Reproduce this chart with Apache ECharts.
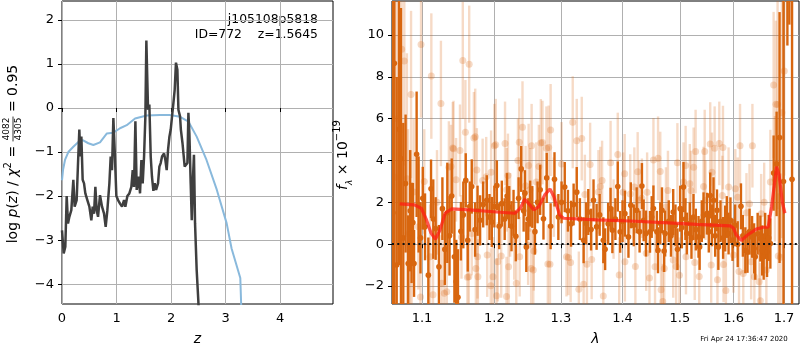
<!DOCTYPE html>
<html>
<head>
<meta charset="utf-8">
<title>p(z) and spectrum</title>
<script src="https://cdn.jsdelivr.net/npm/echarts@6/dist/echarts.min.js"></script>
<style>
  html, body { margin: 0; padding: 0; background: #fff; }
  #chart { width: 800px; height: 350px; }
</style>
</head>
<body>
<div id="chart"></div>
<script>
// ---- left panel: log p(z) (dark) and chi2 curve (blue), [z, value]
var pzCurve = [
  [0.000,-2.78],[0.031,-3.30],[0.061,-3.15],[0.086,-2.00],[0.110,-2.62],[0.135,-2.47],[0.171,-2.32],
  [0.208,-1.63],[0.232,-2.24],[0.269,-2.09],[0.294,-1.25],[0.318,-0.49],[0.336,-1.10],[0.355,-0.65],
  [0.379,-1.63],[0.404,-1.71],[0.428,-1.94],[0.465,-2.09],[0.502,-2.24],[0.538,-2.55],[0.563,-2.24],
  [0.587,-2.40],[0.612,-1.79],[0.636,-2.32],[0.661,-2.47],[0.697,-1.98],[0.734,-2.24],[0.771,-2.40],
  [0.801,-2.70],[0.832,-2.32],[0.869,-1.71],[0.893,-1.10],[0.917,-1.41],[0.942,-0.23],[0.966,-0.95],
  [0.997,-2.00],[1.028,-2.09],[1.064,-2.17],[1.101,-2.24],[1.138,-2.09],[1.162,-2.24],[1.199,-2.00],
  [1.235,-1.94],[1.272,-1.79],[1.297,-1.41],[1.321,-1.79],[1.346,-0.30],[1.370,-1.86],[1.407,-1.56],
  [1.431,-1.94],[1.456,-1.18],[1.480,-1.71],[1.505,-1.10],[1.529,-0.19],[1.547,1.53],[1.578,-0.04],
  [1.602,0.08],[1.627,-1.10],[1.650,-1.56],[1.676,-1.88],[1.700,-1.71],[1.725,-1.86],[1.761,-1.71],
  [1.786,-1.33],[1.810,-1.25],[1.835,-1.10],[1.872,-1.03],[1.896,-1.18],[1.920,-1.41],[1.945,-0.95],
  [1.970,-0.65],[1.994,-0.49],[2.018,-0.19],[2.043,0.11],[2.067,0.42],[2.090,1.03],[2.116,0.87],
  [2.135,-0.04],[2.165,-0.19],[2.180,-0.49],[2.210,-0.80],[2.226,-0.80],[2.250,-1.33],[2.275,-1.30],
  [2.300,-1.25],[2.318,-0.11],[2.336,-0.57],[2.360,-1.71],[2.380,-2.55],[2.398,-1.71],[2.420,-1.06],
  [2.440,-2.62],[2.470,-3.68],[2.500,-4.37],[2.520,-5.00]
];
var chiCurve = [
  [0.000,-1.64],[0.020,-1.40],[0.055,-1.18],[0.116,-1.00],[0.208,-0.88],[0.300,-0.77],[0.379,-0.73],
  [0.483,-0.80],[0.575,-0.84],[0.697,-0.78],[0.820,-0.58],[0.942,-0.56],[1.064,-0.46],[1.187,-0.39],
  [1.340,-0.24],[1.553,-0.17],[1.800,-0.16],[1.980,-0.16],[2.165,-0.20],[2.320,-0.31],[2.470,-0.65],
  [2.650,-1.18],[2.840,-1.86],[3.020,-2.62],[3.110,-3.19],[3.270,-3.86],[3.300,-5.00]
];
var zTicks = [0, 1, 2, 3, 4];
var pTicks = [-4, -3, -2, -1, 0, 1, 2];

// ---- right panel: [lambda, flux, err]
var darkPoints = [
  [1.0622,1.5,14],[1.0640,8.65,12],[1.0670,-1.0,9],[1.0700,5.5,6.5],[1.0725,4.1,7.2],[1.0755,0.3,5.5],
  [1.0785,2.9,3.3],[1.0819,-0.92,2.3],[1.0845,1.6,2.9],[1.0863,0.54,2.4],[1.0880,1.03,1.9],[1.0895,-0.92,1.6],
  [1.0929,4.3,3.0],[1.0955,1.9,2.3],[1.0980,0.3,1.7],[1.1010,2.2,1.5],[1.1040,0.83,1.6],[1.1084,-1.48,1.8],
  [1.1120,2.65,1.4],[1.1150,1.2,1.9],[1.1182,0.75,1.5],[1.1226,-1.08,2.0],[1.1273,1.7,1.5],[1.1306,-0.25,1.7],
  [1.1340,1.5,2.4],[1.1370,0.4,1.9],[1.1400,2.3,1.8],[1.1437,-0.6,2.2],[1.1462,-1.79,2.0],[1.1486,-2.54,2.3],
  [1.1527,0.62,1.4],[1.1560,1.4,1.6],[1.1594,3.05,1.3],[1.1622,0.19,1.5],[1.1650,1.8,1.2],[1.1678,2.76,1.3],
  [1.1725,0.7,1.3],[1.1760,1.6,1.2],[1.1796,1.14,1.2],[1.1840,1.9,1.1],[1.1891,2.1,1.2],[1.1930,1.3,1.1],
  [1.1963,1.06,1.2],[1.2000,1.8,1.0],[1.2036,2.81,1.2],[1.2070,0.86,1.1],[1.2108,1.94,1.1],[1.2150,1.2,1.0],
  [1.2185,2.3,1.1],[1.2216,1.78,1.0],[1.2250,0.86,1.2],[1.2280,1.5,1.1],[1.2314,0.38,1.2],[1.2355,2.2,1.0],
  [1.2394,3.6,1.1],[1.2430,1.6,1.0],[1.2449,2.44,1.1],[1.2470,-0.13,1.2],[1.2500,1.2,1.0],[1.2528,1.94,1.1],
  [1.2560,1.78,1.0],[1.2600,0.6,1.1],[1.2640,2.0,1.0],[1.2680,2.6,1.2],[1.2730,1.22,1.0],[1.2780,3.17,1.2],
  [1.2840,0.86,1.1],[1.2900,3.1,1.3],[1.2960,1.3,1.1],[1.3010,2.0,1.0],[1.3060,2.73,1.2],[1.3110,1.6,1.0],
  [1.3160,0.98,1.1],[1.3200,1.9,1.0],[1.3250,2.49,1.2],[1.3300,1.2,1.0],[1.3360,0.19,1.1],[1.3400,1.0,1.0],
  [1.3435,1.54,1.1],[1.3480,0.7,1.0],[1.3520,2.1,1.0],[1.3570,0.83,1.1],[1.3620,1.4,1.0],[1.3680,0.19,1.1],
  [1.3710,-0.24,1.0],[1.3760,0.98,1.0],[1.3800,1.7,1.0],[1.3830,0.67,1.1],[1.3880,1.2,1.0],[1.3920,2.76,1.2],
  [1.3960,0.59,1.0],[1.4000,1.1,1.0],[1.4040,1.46,1.1],[1.4100,0.35,1.0],[1.4140,1.86,1.1],[1.4190,0.9,1.0],
  [1.4240,1.62,1.1],[1.4290,0.6,1.0],[1.4330,2.78,1.1],[1.4360,1.14,1.0],[1.4400,0.51,1.1],[1.4470,0.59,1.0],
  [1.4500,1.3,1.0],[1.4530,1.71,1.1],[1.4590,0.59,1.0],[1.4610,-0.29,1.1],[1.4650,1.0,1.0],[1.4680,1.62,1.1],
  [1.4718,-0.33,1.0],[1.4736,0.51,1.1],[1.4800,1.1,1.0],[1.4840,0.4,1.0],[1.4880,1.54,1.1],[1.4920,0.9,1.0],
  [1.4956,-0.24,1.0],[1.5005,1.7,1.1],[1.5035,0.8,1.0],[1.5065,2.73,1.2],[1.5100,1.2,1.0],[1.5127,0.51,1.0],
  [1.5180,1.0,1.0],[1.5210,0.3,1.0],[1.5247,1.3,1.1],[1.5290,0.7,1.0],[1.5340,0.35,1.0],[1.5360,-0.13,1.1],
  [1.5400,1.1,1.0],[1.5433,1.38,1.1],[1.5496,1.46,1.0],[1.5530,0.6,1.0],[1.5557,2.33,1.1],[1.5590,0.9,1.0],
  [1.5619,2.1,1.1],[1.5650,0.4,1.0],[1.5684,1.62,1.0],[1.5710,-0.13,1.1],[1.5750,1.1,1.0],[1.5800,0.3,1.0],
  [1.5840,0.75,1.1],[1.5870,1.3,1.0],[1.5904,0.51,1.0],[1.5940,1.14,1.1],[1.5980,0.2,1.0],[1.6030,0.9,1.0],
  [1.6080,0.0,1.1],[1.6143,1.81,1.1],[1.6180,0.4,1.0],[1.6228,-0.29,1.1],[1.6270,-0.37,1.0],[1.6310,0.6,1.1],
  [1.6360,0.35,1.0],[1.6400,-0.2,1.2],[1.6423,-0.6,1.1],[1.6470,0.5,1.0],[1.6524,0.27,1.1],[1.6560,-0.3,1.2],
  [1.6590,-0.6,1.1],[1.6620,0.4,1.1],[1.6657,-0.37,1.2],[1.6690,0.3,1.1],[1.6724,0.03,1.2],[1.6790,3.4,1.8],
  [1.6850,3.84,2.5],[1.6910,5.1,6.0],[1.6990,3.0,14],[1.7070,14.0,4.5],[1.7110,16.0,5.5],[1.7166,3.1,20]
];
var lightPoints = [
  [1.0650,3.2,9],[1.0680,6.0,7],[1.0734,9.32,4],[1.0768,8.76,5],[1.0802,3.13,6],[1.0816,0.5,5],
  [1.0842,0.51,4],[1.0856,7.16,4],[1.0863,-0.89,3.5],[1.0890,2.5,3.5],[1.0952,0.83,3],[1.0980,-2.53,3],
  [1.0987,9.55,3.5],[1.1030,3.0,2.5],[1.1107,-0.6,2.5],[1.1124,8.04,3.0],[1.1147,-2.42,2.5],[1.1200,2.0,2.5],
  [1.1253,6.73,3.0],[1.1263,-1.87,2.3],[1.1299,-2.34,2.0],[1.1333,-2.27,2.2],[1.1361,3.68,2.2],[1.1390,3.71,2.0],
  [1.1415,4.6,2.2],[1.1425,4.56,2.3],[1.1460,3.08,2.0],[1.1514,4.48,2.2],[1.1535,0.35,2.0],[1.1553,8.79,2.8],
  [1.1589,5.35,2.5],[1.1617,-1.58,2.0],[1.1637,-1.56,2.2],[1.1642,8.61,2.8],[1.1678,0.51,2.0],[1.1708,5.08,2.2],
  [1.1727,5.14,2.3],[1.1736,-1.16,2.0],[1.1750,3.55,2.0],[1.1760,-0.6,2.0],[1.1765,-1.56,1.8],[1.1832,3.05,2.0],
  [1.1883,3.23,1.9],[1.1897,-0.52,2.0],[1.1949,-1.99,1.8],[1.1953,3.44,2.0],[1.1980,-1.56,1.9],[1.2000,4.71,2.0],
  [1.2020,4.75,2.2],[1.2031,-2.47,1.8],[1.2049,-0.84,1.9],[1.2099,-0.56,2.0],[1.2155,4.82,2.0],[1.2177,-2.5,1.9],
  [1.2180,2.6,2.0],[1.2198,3.29,2.0],[1.2207,-1.08,1.9],[1.2230,1.4,2.0],[1.2290,0.2,1.9],[1.2321,-1.87,1.8],
  [1.2345,4.0,2.0],[1.2365,4.87,2.1],[1.2371,-0.6,1.9],[1.2413,5.59,2.2],[1.2460,2.8,1.9],[1.2497,-0.05,1.9],
  [1.2505,3.76,2.0],[1.2525,2.6,2.0],[1.2543,-1.16,1.9],[1.2550,4.71,2.0],[1.2575,-1.24,1.8],[1.2583,-0.32,1.9],
  [1.2620,2.97,1.9],[1.2660,3.71,2.0],[1.2690,4.84,2.1],[1.2715,4.86,2.0],[1.2775,4.59,2.0],[1.2797,-0.95,1.9],
  [1.2810,4.63,2.0],[1.2830,-0.96,1.9],[1.2840,5.46,2.2],[1.2890,2.25,1.9],[1.3010,3.84,2.0],[1.3087,-0.6,1.9],
  [1.3117,-0.64,1.8],[1.3153,-0.87,1.9],[1.3186,5.83,2.2],[1.3250,4.95,2.0],[1.3283,-2.15,1.8],[1.3330,5.05,2.0],
  [1.3360,-1.92,1.8],[1.3380,2.38,1.9],[1.3413,-0.96,1.9],[1.3465,3.81,2.0],[1.3490,-0.73,1.9],[1.3600,2.5,2.0],
  [1.3630,2.76,1.9],[1.3660,3.05,1.9],[1.3680,-2.48,1.8],[1.3800,3.9,2.0],[1.3850,1.2,1.9],[1.3920,4.29,2.0],
  [1.3944,-1.47,1.8],[1.4010,2.49,1.9],[1.4036,3.37,1.9],[1.4040,-0.84,1.9],[1.4130,2.4,1.9],[1.4200,2.73,1.9],
  [1.4218,-1.07,1.8],[1.4257,3.46,1.9],[1.4280,2.1,1.9],[1.4330,2.2,1.9],[1.4404,-0.43,1.8],[1.4420,2.49,1.9],
  [1.4461,-1.62,1.8],[1.4530,4.03,2.0],[1.4558,-1.08,1.8],[1.4611,4.11,2.0],[1.4650,3.48,1.9],[1.4664,-2.18,1.8],
  [1.4694,-2.74,1.8],[1.4720,-1.16,1.8],[1.4750,1.78,1.9],[1.4786,2.57,1.9],[1.4880,-0.76,1.8],[1.4932,-1.07,1.8],
  [1.4955,3.89,1.9],[1.4991,-1.48,1.8],[1.5065,2.97,1.9],[1.5104,3.76,1.9],[1.5110,-0.6,1.8],[1.5180,2.89,1.9],
  [1.5200,2.57,1.9],[1.5250,3.68,1.9],[1.5270,-0.87,1.8],[1.5286,4.43,2.0],[1.5353,-1.54,1.8],[1.5433,2.76,1.9],
  [1.5454,4.43,2.0],[1.5470,2.1,1.9],[1.5557,4.79,2.0],[1.5575,-1.0,1.8],[1.5590,3.44,1.9],[1.5640,4.59,2.0],
  [1.5693,-1.7,1.8],[1.5728,4.82,2.0],[1.5785,2.33,1.9],[1.5797,4.62,2.0],[1.5808,-0.97,1.8],[1.5853,-2.21,1.8],
  [1.5904,2.73,1.9],[1.5998,-0.52,1.8],[1.6034,2.65,1.9],[1.6080,2.25,1.9],[1.6105,-1.31,1.8],[1.6125,4.71,2.0],
  [1.6188,-1.4,1.8],[1.6250,1.5,1.9],[1.6310,1.94,1.9],[1.6342,-0.84,1.8],[1.6367,4.71,2.0],[1.6405,-1.56,1.8],
  [1.6501,-1.79,1.8],[1.6524,-2.7,1.8],[1.6540,1.46,1.9],[1.6600,2.0,1.9],[1.6644,-1.24,1.8],[1.6724,2.97,2.5],
  [1.6790,7.61,3.5],[1.6817,3.13,3.0],[1.6836,6.69,4],[1.6870,6.68,5],[1.6883,-0.57,3],[1.6930,-0.62,4],
  [1.6958,6.29,6],[1.7006,8.28,5]
];
var modelCurve = [
  [1.071,1.93],[1.090,1.88],[1.099,1.72],[1.106,1.16],[1.112,0.53],[1.118,0.24],[1.124,0.68],[1.131,1.48],
  [1.140,1.69],[1.165,1.64],[1.203,1.54],[1.230,1.48],[1.238,1.72],[1.2446,2.15],[1.251,1.93],[1.258,1.64],
  [1.266,1.80],[1.275,2.36],[1.283,2.64],[1.289,2.28],[1.298,1.40],[1.304,1.24],[1.357,1.16],[1.4127,1.11],
  [1.4706,1.03],[1.5308,0.95],[1.5935,0.88],[1.600,0.76],[1.605,0.45],[1.6147,0.18],[1.6277,0.45],
  [1.6443,0.72],[1.658,0.81],[1.668,0.81],[1.675,1.80],[1.685,3.71],[1.690,3.31],[1.697,1.96],[1.702,1.48]
];
var lamTicks = [1.1, 1.2, 1.3, 1.4, 1.5, 1.6, 1.7];
var fluxTicks = [-2, 0, 2, 4, 6, 8, 10];

var FONT = 'DejaVu Sans';
var DARK = '#d8660f';
var LIGHT = 'rgba(216,102,15,0.24)';

function minus(v) { return String(v).replace('-', '\u2212'); }

function axisStyle(ticks, fmt) {
  return {
    axisLine: { show: false },
    axisTick: { show: true, inside: false, length: 4, customValues: ticks, lineStyle: { color: '#000', width: 1 } },
    axisLabel: { customValues: ticks, formatter: fmt, color: '#000', fontSize: 13, fontFamily: FONT, margin: 8 },
    splitLine: { show: true, lineStyle: { color: '#b0b0b0', width: 1 } }
  };
}

function errorBar(color, r) {
  return function (params, api) {
    var x = api.value(0), y = api.value(1), e = api.value(2);
    var hi = api.coord([x, y + e]);
    var lo = api.coord([x, y - e]);
    var c = api.coord([x, y]);
    return {
      type: 'group',
      children: [
        { type: 'line', shape: { x1: hi[0], y1: hi[1], x2: lo[0], y2: lo[1] }, style: { stroke: color, lineWidth: 2.4 } },
        { type: 'circle', shape: { cx: c[0], cy: c[1], r: r }, style: { fill: color } }
      ]
    };
  };
}

// y label of the left panel, laid out piece by piece (fraction stacked)
var ctx = document.createElement('canvas').getContext('2d');
function tw(text, size, style) {
  ctx.font = (style || 'normal') + ' ' + size + 'px "' + FONT + '"';
  return ctx.measureText(text).width;
}
var labelPieces = [
  ['log ', 14, 'normal', 0], ['p', 14, 'italic', 0], ['(', 14, 'normal', 0], ['z', 14, 'italic', 0],
  [') / ', 14, 'normal', 0], ['\u03c7', 14, 'italic', 0], ['2', 10, 'normal', -5], [' = ', 14, 'normal', 0]
];
var children = [];
var pos = 0;
labelPieces.forEach(function (p) {
  children.push({ type: 'text', x: pos, y: p[3], style: { text: p[0], fontSize: p[1], fontStyle: p[2], fontFamily: FONT, fill: '#000', align: 'left', verticalAlign: 'middle' } });
  pos += tw(p[0], p[1], p[2]);
});
var fracW = Math.max(tw('4082', 9), tw('4305', 9)) + 2;
children.push({ type: 'text', x: pos + fracW / 2, y: -6, style: { text: '4082', fontSize: 9, fontFamily: FONT, fill: '#000', align: 'center', verticalAlign: 'middle' } });
children.push({ type: 'line', shape: { x1: pos, y1: 0, x2: pos + fracW, y2: 0 }, style: { stroke: '#000', lineWidth: 0.8 } });
children.push({ type: 'text', x: pos + fracW / 2, y: 6, style: { text: '4305', fontSize: 9, fontFamily: FONT, fill: '#000', align: 'center', verticalAlign: 'middle' } });
pos += fracW;
children.push({ type: 'text', x: pos, y: 0, style: { text: ' = 0.95', fontSize: 14, fontFamily: FONT, fill: '#000', align: 'left', verticalAlign: 'middle' } });
pos += tw(' = 0.95', 14);
children.forEach(function (c) {
  if (c.type === 'text') c.x -= pos / 2;
  else { c.shape.x1 -= pos / 2; c.shape.x2 -= pos / 2; }
});

var chart = echarts.init(document.getElementById('chart'), null, { renderer: 'canvas' });

var option = {
  animation: false,
  backgroundColor: '#fff',
  textStyle: { fontFamily: FONT },
  grid: [
    { left: 62, top: 1, width: 271, height: 303, show: true, borderColor: '#000', borderWidth: 1, containLabel: false, outerBoundsMode: 'none' },
    { left: 392, top: 1, width: 407, height: 303, show: true, borderColor: '#000', borderWidth: 1, containLabel: false, outerBoundsMode: 'none' }
  ],
  xAxis: [
    Object.assign({ type: 'value', gridIndex: 0, min: 0, max: 4.97, name: 'z', nameLocation: 'middle', nameGap: 28,
      nameTextStyle: { fontSize: 14, fontStyle: 'italic', color: '#000', fontFamily: FONT } },
      axisStyle(zTicks, minus)),
    Object.assign({ type: 'log', logBase: 10, gridIndex: 1, min: 1.061, max: 1.731, name: '\u03bb', nameLocation: 'middle', nameGap: 28,
      nameTextStyle: { fontSize: 14, fontStyle: 'italic', color: '#000', fontFamily: FONT } },
      axisStyle(lamTicks, function (v) { return Number(v).toFixed(1); }))
  ],
  yAxis: [
    Object.assign({ type: 'value', gridIndex: 0, min: -4.45, max: 2.43 }, axisStyle(pTicks, minus)),
    Object.assign({ type: 'value', gridIndex: 1, min: -2.86, max: 11.63 }, axisStyle(fluxTicks, minus))
  ],
  graphic: [
    { type: 'group', x: 13, y: 154, rotation: Math.PI / 2, children: children },
    { type: 'text', x: 343, y: 155, rotation: Math.PI / 2,
      style: { text: '{i|f}{sub|\u03bb}{n| \u00d7 10}{sup|\u221219}', align: 'center', verticalAlign: 'middle', fill: '#000',
        rich: {
          i: { fontSize: 14, fontStyle: 'italic', fontFamily: FONT, lineHeight: 22 },
          n: { fontSize: 14, fontFamily: FONT, lineHeight: 22 },
          sub: { fontSize: 9, fontStyle: 'italic', fontFamily: FONT, verticalAlign: 'bottom', lineHeight: 12 },
          sup: { fontSize: 10, fontFamily: FONT, verticalAlign: 'top', lineHeight: 12 }
        } } },
    { type: 'text', x: 318, y: 19.5, style: { text: 'j105108p5818', fontSize: 12.4, fontFamily: FONT, fill: '#000', align: 'right', verticalAlign: 'middle' } },
    { type: 'text', x: 318, y: 34.5, style: { text: 'ID=772    z=1.5645', fontSize: 12.4, fontFamily: FONT, fill: '#000', align: 'right', verticalAlign: 'middle' } },
    { type: 'text', x: 744, y: 339, style: { text: 'Fri Apr 24 17:36:47 2020', fontSize: 7, fontFamily: FONT, fill: '#000', align: 'center', verticalAlign: 'middle' } }
  ],
  series: [
    { type: 'line', xAxisIndex: 0, yAxisIndex: 0, data: chiCurve, showSymbol: false, clip: true,
      lineStyle: { color: '#89b9dc', width: 2 } },
    { type: 'line', xAxisIndex: 0, yAxisIndex: 0, data: pzCurve, showSymbol: false, clip: true,
      lineStyle: { color: '#3f3f3f', width: 2.5 } },
    { type: 'custom', xAxisIndex: 1, yAxisIndex: 1, data: lightPoints, clip: true,
      renderItem: errorBar(LIGHT, 3.5), encode: { x: 0, y: 1 } },
    { type: 'custom', xAxisIndex: 1, yAxisIndex: 1, data: darkPoints, clip: true,
      renderItem: errorBar(DARK, 2.8), encode: { x: 0, y: 1 } },
    { type: 'line', xAxisIndex: 1, yAxisIndex: 1, data: modelCurve, showSymbol: false, clip: true,
      lineStyle: { color: 'rgba(255,30,20,0.75)', width: 3.2 },
      markLine: { silent: true, symbol: ['none', 'none'], label: { show: false },
        lineStyle: { type: [2, 3.3], color: '#111', width: 2 }, data: [{ yAxis: 0 }] } }
  ]
};

chart.setOption(option);
</script>
</body>
</html>
